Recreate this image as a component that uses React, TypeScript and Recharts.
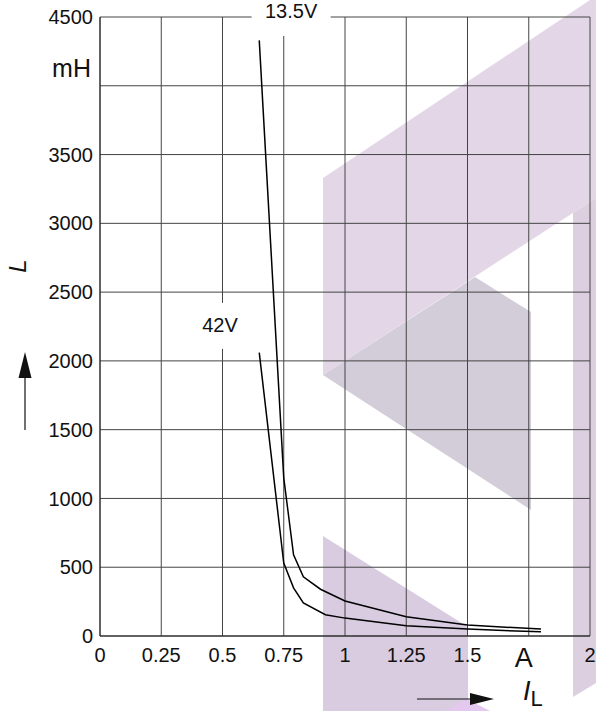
import React from "react"
import { LineChart, Line, XAxis, YAxis, CartesianGrid, ReferenceDot } from "recharts"

// I_L in A, L in mH
const current135 = [0.65, 0.75, 0.79, 0.83, 0.9, 1.0, 1.25, 1.5, 1.8]
const inductance135 = [4330, 1150, 590, 430, 340, 255, 140, 80, 50]
const current42 = [0.65, 0.75, 0.79, 0.83, 0.92, 1.0, 1.25, 1.5, 1.8]
const inductance42 = [2060, 530, 350, 240, 155, 130, 75, 50, 30]

const xTicks = [0, 0.25, 0.5, 0.75, 1, 1.25, 1.5, 1.75, 2]
const xTickLabels = ["0", "0.25", "0.5", "0.75", "1", "1.25", "1.5", "A", "2"]
const yTicks = [0, 500, 1000, 1500, 2000, 2500, 3000, 3500, 4000, 4500]
const yTickLabels = ["0", "500", "1000", "1500", "2000", "2500", "3000", "3500", "mH", "4500"]

const series135 = current135.map((i, k) => ({ i, L: inductance135[k] }))
const series42 = current42.map((i, k) => ({ i, L: inductance42[k] }))

const font = "'Liberation Sans', Arial, sans-serif"
const gridColor = "#444"

const XTick = (props: any) => {
  const { x, y, index } = props
  const label = xTickLabels[index]
  const isUnit = label === "A"
  return (
    <text
      x={isUnit ? x - 5 : x}
      y={y + (isUnit ? 21 : 19)}
      dy="0.355em"
      textAnchor="middle"
      fontFamily={font}
      fontSize={isUnit ? 27 : 20}
      fill="#111"
    >
      {label}
    </text>
  )
}

const YTick = (props: any) => {
  const { x, y, index } = props
  const label = yTickLabels[index]
  if (label === "mH") {
    return (
      <text x={x - 2} y={y - 18} dy="0.355em" textAnchor="end" fontFamily={font} fontSize={25} fill="#111">
        {label}
      </text>
    )
  }
  return (
    <text x={x} y={y} dy="0.355em" textAnchor="end" fontFamily={font} fontSize={20} fill="#111">
      {label}
    </text>
  )
}

const CurveLabel = (text: string, w: number, top: number, bottom: number, base: number) => (props: any) => {
  const { cx, cy } = props
  return (
    <g>
      <rect x={cx - w / 2} y={cy + top} width={w} height={bottom - top} fill="#fff" />
      <text x={cx} y={cy + base} textAnchor="middle" fontFamily={font} fontSize={20} fill="#111">
        {text}
      </text>
    </g>
  )
}

function Watermark() {
  return (
    <svg width={596} height={711} style={{ position: "absolute", left: 0, top: 0 }}>
      <polygon points="323,178 596,-4 596,198 323,375" fill="#e3d7e7" />
      <polygon points="323,375 475,277 531,312 531,510" fill="#d3ccd9" />
      <polygon points="573,213 596,198 596,683 573,697" fill="#dccfe0" />
      <polygon points="323,536 468,627 468,711 323,711" fill="#d9cce1" />
      <polygon points="445,711 467,699 490,711" fill="#e5c8f0" />
    </svg>
  )
}

function Overlay() {
  return (
    <svg width={596} height={711} style={{ position: "absolute", left: 0, top: 0, pointerEvents: "none" }}>
      <text
        x={17}
        y={266}
        transform="rotate(-90 17 266)"
        dy="0.355em"
        textAnchor="middle"
        fontFamily={font}
        fontStyle="italic"
        fontSize={24}
        fill="#111"
      >
        L
      </text>
      <line x1={25} y1={430} x2={25} y2={376} stroke="#111" strokeWidth={1.2} />
      <polygon points="25,352 18.5,378 31.5,378" fill="#111" />
      <line x1={417} y1={699} x2={472} y2={699} stroke="#111" strokeWidth={1.2} />
      <polygon points="494,699 470,693 470,705" fill="#111" />
      <text x={523} y={700} fontFamily={font} fontSize={27} fill="#111">
        <tspan fontStyle="italic">I</tspan>
        <tspan fontSize={22} dy={6}>L</tspan>
      </text>
    </svg>
  )
}

export default function App() {
  return (
    <div style={{ position: "absolute", left: 0, top: 0, width: 596, height: 711, background: "#fff" }}>
      <Watermark />
      <div style={{ position: "absolute", left: 0, top: 0 }}>
        <LineChart width={596} height={711} margin={{ top: 17, right: 6, bottom: 45, left: 0 }}>
          <CartesianGrid stroke={gridColor} strokeWidth={1} />
          <XAxis
            type="number"
            dataKey="i"
            domain={[0, 2]}
            ticks={xTicks}
            interval={0}
            height={30}
            tickSize={0}
            tickMargin={0}
            tick={<XTick />}
            axisLine={{ stroke: "#222" }}
            tickLine={false}
          />
          <YAxis
            type="number"
            dataKey="L"
            domain={[0, 4500]}
            ticks={yTicks}
            interval={0}
            width={100}
            tickSize={0}
            tickMargin={7}
            tick={<YTick />}
            axisLine={{ stroke: "#222" }}
            tickLine={false}
          />
          <ReferenceDot
            x={0.78}
            y={4500}
            r={0}
            ifOverflow="visible"
            shape={CurveLabel("13.5V", 79, -17, 19, 1)}
          />
          <ReferenceDot
            x={0.49}
            y={2000}
            r={0}
            ifOverflow="visible"
            shape={CurveLabel("42V", 52, -58, -12, -29)}
          />
          <Line
            data={series135}
            dataKey="L"
            type="linear"
            stroke="#000"
            strokeWidth={1.5}
            dot={false}
            isAnimationActive={false}
          />
          <Line
            data={series42}
            dataKey="L"
            type="linear"
            stroke="#000"
            strokeWidth={1.5}
            dot={false}
            isAnimationActive={false}
          />
        </LineChart>
      </div>
      <Overlay />
    </div>
  )
}
